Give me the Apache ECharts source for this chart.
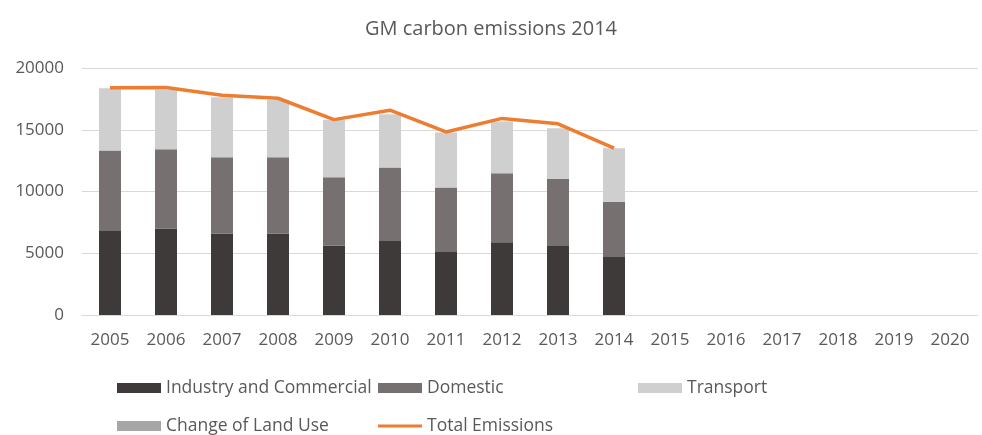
<!DOCTYPE html>
<html><head><meta charset="utf-8">
<script src="https://cdn.jsdelivr.net/npm/echarts@6/dist/echarts.min.js"></script>
<style>html,body{margin:0;padding:0;background:#fff}#c{width:982px;height:435px}</style>
</head><body><div id="c"></div>
<script>
const years = ['2005','2006','2007','2008','2009','2010','2011','2012','2013','2014','2015','2016','2017','2018','2019','2020'];
const industry = [6810, 7000, 6590, 6590, 5620, 6000, 5100, 5890, 5590, 4700];
const domestic = [6500, 6430, 6190, 6190, 5540, 5940, 5220, 5590, 5430, 4480];
const transport = [5060, 4810, 4860, 4650, 4650, 4320, 4450, 4190, 4110, 4330];
const landUse = [null, null, null, null, null, null, null, null, null, null];
const totalEmissions = [18400, 18420, 17800, 17550, 15820, 16580, 14820, 15920, 15480, 13520];

const txt = '#595959';
const font = 'Open Sans';
function leg(name, left, top, icon, h) {
  return {
    data: [name], left: left, top: top, icon: icon || 'rect',
    itemWidth: 44, itemHeight: h || 10, itemGap: 0,
    textStyle: {color: txt, fontSize: 17.5, fontFamily: font, padding: [0,0,0,0]},
    padding: 0, selectedMode: false
  };
}
const chart = echarts.init(document.getElementById('c'));
chart.setOption({
  animation: false,
  title: {text: 'GM carbon emissions 2014', left: 'center', top: 14,
    textStyle: {color: txt, fontSize: 20, fontWeight: 'normal', fontFamily: font}},
  legend: [
    leg('Industry and Commercial', 117, 379),
    leg('Domestic', 378, 379),
    leg('Transport', 638, 379),
    leg('Change of Land Use', 117, 417),
    leg('Total Emissions', 378, 417, 'rect', 3)
  ],
  grid: {left: 82, right: 4, top: 68, bottom: 120},
  xAxis: {type: 'category', data: years,
    axisLine: {lineStyle: {color: '#d9d9d9'}}, axisTick: {show: false},
    axisLabel: {color: txt, fontSize: 17, fontFamily: font, margin: 17}},
  yAxis: {type: 'value', min: 0, max: 20000, interval: 5000,
    axisLine: {show: false}, axisTick: {show: false},
    splitLine: {lineStyle: {color: '#d9d9d9'}},
    axisLabel: {color: txt, fontSize: 17, fontFamily: font, margin: 18, formatter: v => String(v)}},
  series: [
    {name: 'Industry and Commercial', type: 'bar', stack: 's', data: industry, barWidth: 22, itemStyle: {color: '#3d3a39'}},
    {name: 'Domestic', type: 'bar', stack: 's', data: domestic, barWidth: 22, itemStyle: {color: '#767170'}},
    {name: 'Transport', type: 'bar', stack: 's', data: transport, barWidth: 22, itemStyle: {color: '#d0cfcf'}},
    {name: 'Change of Land Use', type: 'bar', stack: 's', data: landUse, barWidth: 22, itemStyle: {color: '#a6a6a6'}},
    {name: 'Total Emissions', type: 'line', data: totalEmissions, showSymbol: false, symbol: 'none',
      lineStyle: {color: '#ed7d31', width: 3.5}, itemStyle: {color: '#ed7d31'}}
  ]
});
</script></body></html>
